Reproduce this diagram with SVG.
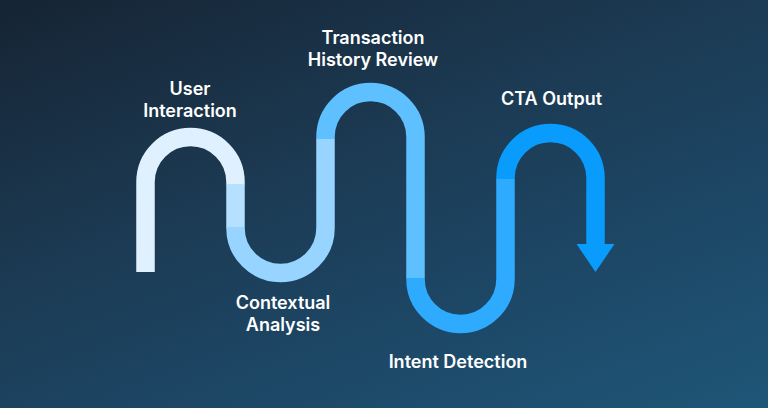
<svg xmlns="http://www.w3.org/2000/svg" width="768" height="408" viewBox="0 0 768 408">
  <defs>
    <linearGradient id="bg" x1="0" y1="0" x2="234" y2="612" gradientUnits="userSpaceOnUse">
      <stop offset="0" stop-color="#162434"/>
      <stop offset="0.42" stop-color="#1c3b54"/>
      <stop offset="0.58" stop-color="#1c425f"/>
      <stop offset="1" stop-color="#1f5678"/>
    </linearGradient>
    <style>
      .seg { fill: none; stroke-width: 18.5; stroke-linecap: butt; stroke-linejoin: miter; }
      .lbl { font-family: Inter, "Open Sans", "Liberation Sans", sans-serif; font-weight: 600; font-size: 18px; fill: #ffffff; text-anchor: middle; }
    </style>
  </defs>
  <rect width="768" height="408" fill="url(#bg)"/>

  <g id="connectors">
    <path class="seg" stroke="#dff0fe" d="M145.5,272 V182 A45,45 0 0 1 235.5,182 V184.5"/>
    <path class="seg" stroke="#b5e1ff" d="M235.5,184 V227.5"/>
    <path class="seg" stroke="#97d4ff" d="M235.5,227 V228 A45,45 0 0 0 325.5,228 V138.5"/>
    <path class="seg" stroke="#5ec0ff" d="M325.5,139 V137 A45,45 0 0 1 415.5,137 V278.5"/>
    <path class="seg" stroke="#2eabff" d="M415.5,278 V279 A45,45 0 0 0 505.5,279 V178.5"/>
    <path class="seg" stroke="#0a9cfc" d="M505.5,179 V178 A45,45 0 0 1 595.5,178 V245"/>
    <polygon fill="#0a9cfc" points="576.5,244 614.5,244 595.5,272"/>
  </g>

  <g id="user-interaction">
    <text class="lbl" x="190" y="95">User</text>
    <text class="lbl" x="190" y="116.5">Interaction</text>
  </g>
  <g id="contextual-analysis">
    <text class="lbl" x="283" y="309">Contextual</text>
    <text class="lbl" x="283" y="330.5">Analysis</text>
  </g>
  <g id="transaction-history-review">
    <text class="lbl" x="373" y="44">Transaction</text>
    <text class="lbl" x="373" y="65.5">History Review</text>
  </g>
  <g id="intent-detection">
    <text class="lbl" x="458" y="368">Intent Detection</text>
  </g>
  <g id="cta-output">
    <text class="lbl" x="551.5" y="105">CTA Output</text>
  </g>
</svg>
